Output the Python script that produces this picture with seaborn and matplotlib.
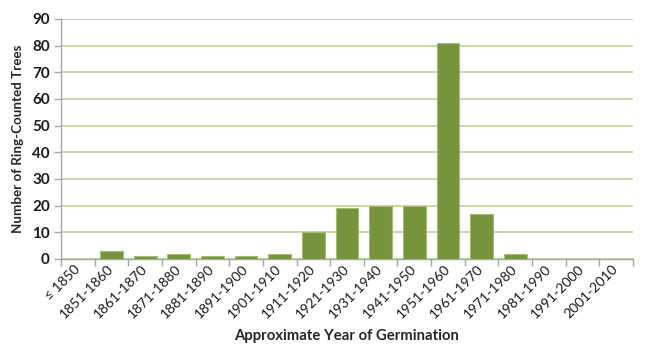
import matplotlib
matplotlib.use("Agg")
import matplotlib.pyplot as plt
import numpy as np
import pandas as pd
import seaborn as sns
from matplotlib.ticker import FixedLocator, MultipleLocator

decades = ["≤ 1850", "1851-1860", "1861-1870", "1871-1880", "1881-1890",
           "1891-1900", "1901-1910", "1911-1920", "1921-1930", "1931-1940",
           "1941-1950", "1951-1960", "1961-1970", "1971-1980", "1981-1990",
           "1991-2000", "2001-2010"]
tree_counts = [0, 3, 1, 2, 1, 1, 2, 10, 19, 20, 20, 81, 17, 2, 0, 0, 0]

df = pd.DataFrame({"decade": decades, "count": tree_counts})

sns.set_theme(style="white")
plt.rcParams["font.family"] = ["Lato", "DejaVu Sans"]

fig = plt.figure(figsize=(6.5, 3.5), dpi=100)
ax = fig.add_axes([61 / 650, 1 - 259 / 350, 572 / 650, 240 / 350])

sns.barplot(data=df, x="decade", y="count", color="#77933C", width=0.68,
            saturation=1, edgecolor="#A4BD74", linewidth=0.8, ax=ax, zorder=3)

ax.set_ylim(0, 90)
ax.set_xlim(-0.5, len(decades) - 0.5)
ax.yaxis.set_major_locator(MultipleLocator(10))
ax.grid(axis="y", color="#C3D69B", linewidth=1.3, zorder=0)
ax.set_axisbelow(True)

for side in ["top", "right"]:
    ax.spines[side].set_visible(False)
for side in ["left", "bottom"]:
    ax.spines[side].set_color("#A6A6A6")
    ax.spines[side].set_linewidth(1.0)

# tick marks sit between categories on the x axis
ax.xaxis.set_minor_locator(FixedLocator(np.arange(-0.5, len(decades), 1.0)))
ax.tick_params(axis="x", which="major", length=0, pad=6)
ax.tick_params(axis="x", which="minor", length=5, color="#A6A6A6", width=1.0,
               direction="out", bottom=True)
ax.tick_params(axis="y", length=5, color="#A6A6A6", width=1.0, left=True,
               direction="out", labelsize=11, pad=3)

ax.set_xticks(range(len(decades)))
ax.set_xticklabels(decades, rotation=45, ha="right", va="center",
                   rotation_mode="anchor", fontsize=10)
for lbl in ax.get_yticklabels():
    lbl.set_fontweight("bold")
    lbl.set_color("#1a1a1a")
for lbl in ax.get_xticklabels():
    lbl.set_color("#1a1a1a")

ax.set_xlabel("Approximate Year of Germination", fontsize=10.7,
              fontweight="bold", va="center")
ax.set_ylabel("Number of Ring-Counted Trees", fontsize=9.6,
              fontweight="bold", va="center")
ax.xaxis.set_label_coords(0.5, -77 / 240)
ax.yaxis.set_label_coords(-43 / 572, 0.5)

fig.savefig("out.png", dpi=100)
